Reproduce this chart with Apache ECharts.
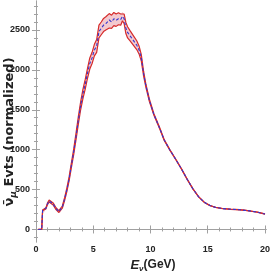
<!DOCTYPE html>
<html><head><meta charset="utf-8">
<script src="https://cdn.jsdelivr.net/npm/echarts@6/dist/echarts.min.js"></script>
<style>html,body{margin:0;padding:0;background:#fff}#c{width:273px;height:273px}</style>
</head><body><div id="c"></div>
<script>
// Neutrino energy (GeV)
const energy = [0.2,0.5,0.58,0.72,0.87,1.0,1.15,1.3,1.5,1.75,2.0,2.1,2.3,2.5,2.7,2.9,3.1,3.3,3.5,3.7,3.9,4.1,4.3,4.5,4.7,4.9,5.1,5.3,5.5,5.7,5.9,6.1,6.4,6.6,6.8,7.0,7.2,7.4,7.55,7.7,7.85,8.0,8.2,8.5,8.8,9.0,9.2,9.4,9.6,9.9,10.3,10.8,11.2,11.7,12.2,12.7,13.2,13.7,14.2,14.7,15.2,15.7,16.3,17.0,17.8,18.5,19.3,20.0];
// central prediction (blue)
const central = [0,0,240,225,265,320,357,350,320,260,225,222,280,380,500,640,810,980,1170,1370,1550,1700,1820,1960,2080,2150,2250,2300,2480,2520,2560,2580,2625,2600,2640,2620,2640,2630,2670,2640,2525,2470,2430,2370,2310,2250,2150,1950,1800,1620,1440,1270,1120,995,880,760,630,510,410,340,300,276,262,254,247,236,218,194];
// upper edge of band (red)
const upper = [0,0,244,230,272,330,369,363,333,272,237,234,294,398,522,665,840,1015,1210,1415,1600,1755,1880,2020,2150,2220,2320,2380,2560,2600,2645,2665,2705,2685,2720,2700,2715,2700,2725,2700,2595,2540,2495,2430,2365,2300,2190,1980,1820,1635,1450,1278,1126,999,883,762,632,512,411,341,301,277,263,255,248,237,219,195];
// lower edge of band (red)
const lower = [0,0,236,220,258,310,345,337,307,248,213,210,266,362,478,615,780,945,1130,1320,1500,1640,1760,1895,2010,2080,2175,2220,2400,2440,2480,2500,2525,2520,2555,2545,2565,2560,2615,2580,2455,2400,2365,2310,2255,2200,2110,1920,1780,1605,1430,1262,1114,991,877,758,628,508,409,339,299,275,261,253,246,235,217,193];
const xMajor = [0,5,10,15,20];
const xMinor = [1,2,3,4,6,7,8,9,11,12,13,14,16,17,18,19];
const yMajor = [0,500,1000,1500,2000,2500];
const yMinor = [-100,100,200,300,400,600,700,800,900,1100,1200,1300,1400,1600,1700,1800,1900,2100,2200,2300,2400,2600,2700,2800];

const XMIN=-0.26, XMAX=20.1, YMIN=-157, YMAX=2863;
const frame = '#a0a0a0';
const lab = {color:'#222', fontSize:9, fontWeight:'bold', fontFamily:'Liberation Sans', formatter:function(v){return String(v);}};

function xa(pos, vals, len, showLine, showLab){
  return {type:'value', min:XMIN, max:XMAX, position:pos, gridIndex:0,
    axisLine:{show:showLine, lineStyle:{color:frame, width:1}},
    axisTick:{show:true, inside:true, length:len, customValues:vals, lineStyle:{color:frame}},
    axisLabel: showLab ? Object.assign({show:true, margin:3, customValues:vals}, lab) : {show:false},
    splitLine:{show:false}};
}
function ya(pos, vals, len, showLine, showLab){
  return {type:'value', min:YMIN, max:YMAX, position:pos, gridIndex:0,
    axisLine:{show:showLine, lineStyle:{color:frame, width:1}},
    axisTick:{show:true, inside:true, length:len, customValues:vals, lineStyle:{color:frame}},
    axisLabel: showLab ? Object.assign({show:true, margin:3, customValues:vals}, lab) : {show:false},
    splitLine:{show:false}};
}
const pair = (ys) => energy.map((e,i)=>[e, ys[i]]);

const chart = echarts.init(document.getElementById('c'), null, {renderer:'canvas'});
chart.setOption({
  animation:false,
  backgroundColor:'#fff',
  grid:{left:33, right:5, top:1, bottom:31, containLabel:false},
  xAxis:[xa('bottom',xMajor,4,true,true), xa('bottom',xMinor,2,false,false),
         xa('top',xMajor,4,true,false), xa('top',xMinor,2,false,false)],
  yAxis:[ya('left',yMajor,4,true,true), ya('left',yMinor,2,false,false),
         ya('right',yMajor,4,true,false), ya('right',yMinor,2,false,false)],
  graphic:[
    {type:'text', x:10, y:132, rotation:Math.PI/2,
     style:{text:'{a|ν̄}{s|μ}{a| Evts (normalized)}', align:'center', verticalAlign:'middle',
       rich:{a:{fontSize:13, fontWeight:'bold', fontFamily:'DejaVu Sans', fill:'#222'},
             s:{fontSize:9, fontWeight:'bold', fontStyle:'italic', fontFamily:'DejaVu Sans', fill:'#222', padding:[7,0,0,0]}}}},
    {type:'text', x:153, y:265,
     style:{text:'{e|E}{s|ν}{g|(GeV)}', align:'center', verticalAlign:'middle',
       rich:{e:{fontSize:13, fontWeight:'bold', fontStyle:'italic', fontFamily:'Liberation Sans', fill:'#222'},
             s:{fontSize:8, fontWeight:'bold', fontStyle:'italic', fontFamily:'Liberation Sans', fill:'#222', padding:[7,0,0,0]},
             g:{fontSize:12, fontWeight:'bold', fontFamily:'Liberation Sans', fill:'#222'}}}}
  ],
  series:[
    {type:'custom', xAxisIndex:0, yAxisIndex:0, data:[[energy[0], 0]], z:1, silent:true,
     renderItem:function(params, api){
       const pts=[];
       for(let i=0;i<energy.length;i++) pts.push(api.coord([energy[i], upper[i]]));
       for(let i=energy.length-1;i>=0;i--) pts.push(api.coord([energy[i], lower[i]]));
       return {type:'polygon', shape:{points:pts}, style:{fill:'#f3c9cf', stroke:null}};
     }},
    {type:'line', data:pair(upper), symbol:'none', z:3, lineStyle:{color:'#d52b2b', width:1.2}},
    {type:'line', data:pair(lower), symbol:'none', z:3, lineStyle:{color:'#d52b2b', width:1.2}},
    {type:'line', data:pair(central), symbol:'none', z:4, lineStyle:{color:'#3535d0', width:1.1, type:[3,2]}}
  ]
});
</script></body></html>
